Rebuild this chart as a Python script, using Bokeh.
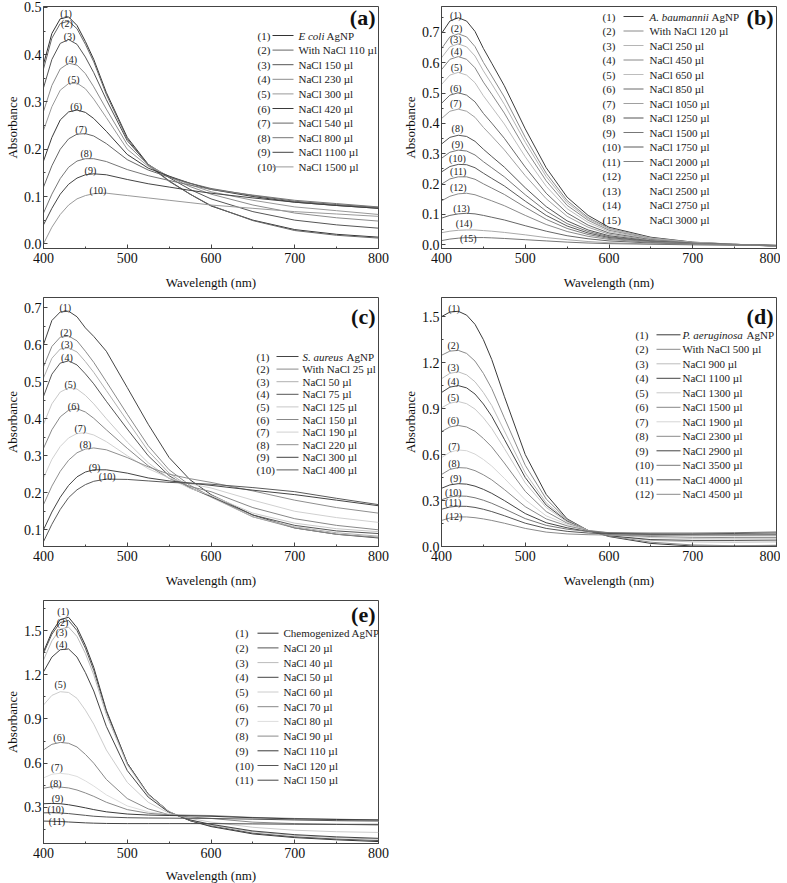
from bokeh.plotting import figure
from bokeh.layouts import column, row
from bokeh.models import Range1d, SingleIntervalTicker, PrintfTickFormatter
from bokeh.embed import file_html
from bokeh.resources import INLINE
from bokeh.core.properties import value

FONT = "Liberation Serif"
WL = [400, 410, 420, 430, 440, 450, 460, 475, 500, 525, 550, 575, 600, 650, 700, 750, 800]

# ---------------- panel (a) ----------------
A_ITALIC = "E coli"
A_LABELS = ["AgNP", "With NaCl 110 µl", "NaCl 150 µl", "NaCl 230 µl", "NaCl 300 µl",
            "NaCl 420 µl", "NaCl 540 µl", "NaCl 800 µl", "NaCl 1100 µl", "NaCl 1500 µl"]
A_LBL_WL = [427, 428, 431, 433, 436, 439, 445, 451, 456, 465]
A_LBL_Y = [0.488, 0.465, 0.439, 0.390, 0.348, 0.291, 0.242, 0.190, 0.156, 0.112]
A_SERIES = [
    [0.380, 0.445, 0.476, 0.480, 0.462, 0.428, 0.390, 0.320, 0.225, 0.168, 0.133, 0.105, 0.080, 0.050, 0.030, 0.020, 0.014],
    [0.370, 0.435, 0.466, 0.471, 0.455, 0.422, 0.385, 0.316, 0.222, 0.166, 0.132, 0.105, 0.081, 0.049, 0.028, 0.018, 0.012],
    [0.330, 0.390, 0.424, 0.432, 0.422, 0.395, 0.362, 0.305, 0.218, 0.168, 0.140, 0.115, 0.095, 0.068, 0.050, 0.040, 0.033],
    [0.280, 0.335, 0.370, 0.382, 0.378, 0.360, 0.332, 0.285, 0.210, 0.167, 0.142, 0.121, 0.105, 0.082, 0.065, 0.055, 0.048],
    [0.240, 0.290, 0.325, 0.339, 0.340, 0.328, 0.306, 0.267, 0.200, 0.164, 0.143, 0.125, 0.110, 0.092, 0.078, 0.070, 0.062],
    [0.175, 0.225, 0.262, 0.279, 0.283, 0.278, 0.265, 0.238, 0.189, 0.160, 0.143, 0.128, 0.115, 0.100, 0.088, 0.081, 0.075],
    [0.120, 0.165, 0.200, 0.222, 0.232, 0.233, 0.228, 0.212, 0.178, 0.156, 0.141, 0.128, 0.117, 0.102, 0.090, 0.083, 0.077],
    [0.065, 0.105, 0.138, 0.162, 0.175, 0.180, 0.180, 0.174, 0.157, 0.144, 0.134, 0.124, 0.115, 0.103, 0.092, 0.085, 0.078],
    [0.040, 0.075, 0.105, 0.126, 0.139, 0.146, 0.148, 0.146, 0.136, 0.127, 0.120, 0.113, 0.107, 0.097, 0.088, 0.081, 0.075],
    [0.000, 0.035, 0.062, 0.082, 0.095, 0.102, 0.106, 0.107, 0.102, 0.097, 0.092, 0.087, 0.082, 0.075, 0.068, 0.063, 0.058],
]
A_COLORS = ["#333333", "#666666", "#555555", "#8c8c8c", "#999999",
            "#3a3a3a", "#666666", "#777777", "#444444", "#9a9a9a"]

# ---------------- panel (b) ----------------
B_ITALIC = "A. baumannii"
B_LABELS = ["AgNP", "With NaCl 120 µl", "NaCl 250 µl", "NaCl 450 µl", "NaCl 650 µl",
            "NaCl 850 µl", "NaCl 1050 µl", "NaCl 1250 µl", "NaCl 1500 µl", "NaCl 1750 µl",
            "NaCl 2000 µl", "NaCl 2250 µl", "NaCl 2500 µl", "NaCl 2750 µl", "NaCl 3000 µl"]
B_LBL_WL = [417, 418, 417, 418, 418, 417, 417, 419, 419, 419, 420, 420, 424, 427, 432]
B_LBL_Y = [0.757, 0.713, 0.677, 0.636, 0.585, 0.514, 0.464, 0.382, 0.329, 0.285,
           0.243, 0.189, 0.121, 0.069, 0.022]
B_SERIES = [
    [0.696, 0.737, 0.748, 0.737, 0.703, 0.647, 0.598, 0.524, 0.382, 0.254, 0.157, 0.097, 0.058, 0.025, 0.009, 0.002, -0.005],
    [0.646, 0.685, 0.695, 0.685, 0.653, 0.601, 0.556, 0.487, 0.354, 0.236, 0.146, 0.090, 0.054, 0.023, 0.008, 0.002, -0.004],
    [0.616, 0.652, 0.662, 0.652, 0.622, 0.573, 0.530, 0.463, 0.338, 0.225, 0.139, 0.086, 0.052, 0.022, 0.008, 0.002, -0.004],
    [0.577, 0.611, 0.620, 0.611, 0.583, 0.536, 0.496, 0.434, 0.316, 0.211, 0.130, 0.081, 0.048, 0.020, 0.007, 0.002, -0.004],
    [0.528, 0.559, 0.568, 0.559, 0.534, 0.491, 0.454, 0.398, 0.290, 0.193, 0.119, 0.074, 0.044, 0.019, 0.007, 0.002, -0.003],
    [0.466, 0.493, 0.501, 0.493, 0.471, 0.433, 0.401, 0.351, 0.256, 0.170, 0.105, 0.065, 0.039, 0.017, 0.006, 0.001, -0.003],
    [0.416, 0.440, 0.447, 0.440, 0.420, 0.387, 0.358, 0.313, 0.228, 0.152, 0.094, 0.058, 0.035, 0.015, 0.005, 0.001, -0.003],
    [0.332, 0.354, 0.361, 0.357, 0.341, 0.315, 0.291, 0.256, 0.188, 0.126, 0.079, 0.049, 0.030, 0.013, 0.005, 0.001, -0.002],
    [0.285, 0.305, 0.312, 0.309, 0.296, 0.274, 0.254, 0.224, 0.165, 0.111, 0.070, 0.044, 0.027, 0.012, 0.004, 0.001, -0.002],
    [0.240, 0.258, 0.265, 0.264, 0.254, 0.236, 0.219, 0.194, 0.144, 0.097, 0.062, 0.039, 0.024, 0.011, 0.004, 0.001, -0.002],
    [0.200, 0.217, 0.224, 0.224, 0.216, 0.201, 0.187, 0.166, 0.124, 0.084, 0.054, 0.034, 0.021, 0.010, 0.004, 0.001, -0.002],
    [0.145, 0.160, 0.168, 0.170, 0.165, 0.155, 0.145, 0.129, 0.097, 0.067, 0.044, 0.028, 0.018, 0.008, 0.003, 0.000, -0.002],
    [0.088, 0.097, 0.102, 0.104, 0.102, 0.097, 0.091, 0.082, 0.063, 0.045, 0.030, 0.020, 0.013, 0.006, 0.002, 0.000, -0.002],
    [0.040, 0.045, 0.048, 0.049, 0.049, 0.047, 0.045, 0.041, 0.033, 0.024, 0.017, 0.011, 0.007, 0.003, 0.001, -0.001, -0.002],
    [0.014, 0.019, 0.022, 0.024, 0.024, 0.024, 0.023, 0.021, 0.017, 0.013, 0.009, 0.006, 0.004, 0.002, 0.000, -0.001, -0.002],
]
B_COLORS = ["#3c3c3c", "#8a8a8a", "#b5b5b5", "#888888", "#bdbdbd", "#6a6a6a", "#a0a0a0",
            "#555555", "#777777", "#5a5a5a", "#808080", "#8a8a8a", "#666666", "#aaaaaa", "#777777"]

# ---------------- panel (c) ----------------
C_ITALIC = "S. aureus"
C_LABELS = ["AgNP", "With NaCl 25 µl", "NaCl 50 µl", "NaCl 75 µl", "NaCl 125 µl",
            "NaCl 150 µl", "NaCl 190 µl", "NaCl 220 µl", "NaCl 300 µl", "NaCl 400 µl"]
C_LBL_WL = [426, 427, 428, 428, 432, 436, 444, 450, 461, 476]
C_LBL_Y = [0.700, 0.633, 0.599, 0.565, 0.493, 0.434, 0.373, 0.329, 0.269, 0.245]
C_SERIES = [
    [0.600, 0.665, 0.688, 0.690, 0.675, 0.645, 0.622, 0.582, 0.484, 0.385, 0.295, 0.235, 0.195, 0.140, 0.105, 0.088, 0.078],
    [0.540, 0.595, 0.620, 0.623, 0.610, 0.582, 0.552, 0.500, 0.412, 0.327, 0.262, 0.220, 0.190, 0.135, 0.105, 0.088, 0.080],
    [0.510, 0.563, 0.588, 0.591, 0.580, 0.554, 0.525, 0.476, 0.394, 0.313, 0.253, 0.215, 0.188, 0.135, 0.108, 0.092, 0.083],
    [0.460, 0.520, 0.550, 0.556, 0.545, 0.521, 0.494, 0.447, 0.372, 0.300, 0.246, 0.213, 0.190, 0.140, 0.112, 0.097, 0.090],
    [0.385, 0.440, 0.472, 0.483, 0.480, 0.463, 0.440, 0.400, 0.337, 0.281, 0.239, 0.212, 0.193, 0.145, 0.118, 0.103, 0.095],
    [0.320, 0.370, 0.405, 0.423, 0.427, 0.418, 0.401, 0.370, 0.320, 0.273, 0.239, 0.217, 0.203, 0.160, 0.130, 0.112, 0.100],
    [0.240, 0.290, 0.325, 0.348, 0.360, 0.362, 0.356, 0.338, 0.300, 0.265, 0.240, 0.224, 0.213, 0.180, 0.150, 0.133, 0.120],
    [0.168, 0.218, 0.258, 0.288, 0.308, 0.318, 0.321, 0.316, 0.295, 0.270, 0.250, 0.238, 0.228, 0.205, 0.180, 0.160, 0.145],
    [0.100, 0.148, 0.188, 0.220, 0.243, 0.256, 0.262, 0.262, 0.253, 0.240, 0.232, 0.226, 0.220, 0.207, 0.195, 0.180, 0.165],
    [0.068, 0.115, 0.155, 0.187, 0.208, 0.222, 0.231, 0.237, 0.236, 0.232, 0.228, 0.226, 0.223, 0.214, 0.203, 0.185, 0.168],
]
C_COLORS = ["#444444", "#8a8a8a", "#b0b0b0", "#555555", "#c8c8c8",
            "#888888", "#d0d0d0", "#8f8f8f", "#444444", "#5a5a5a"]

# ---------------- panel (d) ----------------
D_ITALIC = "P. aeruginosa"
D_LABELS = ["AgNP", "With NaCl 500 µl", "NaCl 900 µl", "NaCl 1100 µl", "NaCl 1300 µl",
            "NaCl 1500 µl", "NaCl 1900 µl", "NaCl 2300 µl", "NaCl 2900 µl", "NaCl 3500 µl",
            "NaCl 4000 µl", "NaCl 4500 µl"]
D_LBL_WL = [415, 414, 414, 414, 414, 414, 415, 415, 417, 414, 414, 415]
D_LBL_Y = [1.555, 1.314, 1.171, 1.080, 0.974, 0.821, 0.653, 0.543, 0.442, 0.355, 0.285, 0.197]
D_SERIES = [
    [1.500, 1.530, 1.535, 1.510, 1.450, 1.350, 1.220, 0.980, 0.600, 0.340, 0.180, 0.105, 0.065, 0.020, 0.003, 0.002, 0.005],
    [1.248, 1.275, 1.280, 1.260, 1.210, 1.130, 1.030, 0.840, 0.530, 0.310, 0.175, 0.105, 0.068, 0.028, 0.010, 0.005, 0.008],
    [1.095, 1.130, 1.140, 1.120, 1.075, 1.005, 0.920, 0.755, 0.480, 0.285, 0.170, 0.105, 0.070, 0.040, 0.030, 0.028, 0.030],
    [1.005, 1.040, 1.050, 1.035, 0.995, 0.930, 0.850, 0.700, 0.450, 0.270, 0.165, 0.105, 0.070, 0.045, 0.040, 0.040, 0.042],
    [0.905, 0.935, 0.946, 0.932, 0.897, 0.840, 0.770, 0.640, 0.415, 0.255, 0.160, 0.105, 0.075, 0.058, 0.052, 0.050, 0.050],
    [0.750, 0.780, 0.790, 0.780, 0.752, 0.705, 0.650, 0.545, 0.360, 0.228, 0.152, 0.105, 0.078, 0.065, 0.060, 0.058, 0.058],
    [0.580, 0.615, 0.630, 0.625, 0.603, 0.568, 0.525, 0.445, 0.305, 0.200, 0.145, 0.105, 0.085, 0.075, 0.070, 0.068, 0.068],
    [0.470, 0.503, 0.515, 0.512, 0.495, 0.468, 0.435, 0.372, 0.260, 0.180, 0.135, 0.105, 0.090, 0.082, 0.078, 0.076, 0.076],
    [0.380, 0.402, 0.410, 0.407, 0.394, 0.373, 0.347, 0.300, 0.215, 0.155, 0.122, 0.098, 0.085, 0.080, 0.077, 0.076, 0.077],
    [0.305, 0.323, 0.330, 0.328, 0.318, 0.302, 0.282, 0.246, 0.182, 0.138, 0.113, 0.098, 0.090, 0.088, 0.088, 0.090, 0.095],
    [0.243, 0.258, 0.263, 0.262, 0.255, 0.243, 0.228, 0.201, 0.152, 0.118, 0.099, 0.088, 0.082, 0.080, 0.082, 0.085, 0.088],
    [0.170, 0.186, 0.193, 0.193, 0.188, 0.180, 0.170, 0.152, 0.118, 0.094, 0.082, 0.077, 0.075, 0.073, 0.075, 0.078, 0.080],
]
D_COLORS = ["#3a3a3a", "#8a8a8a", "#bdbdbd", "#444444", "#c8c8c8", "#888888",
            "#d5d5d5", "#8a8a8a", "#444444", "#777777", "#555555", "#8a8a8a"]

# ---------------- panel (e) ----------------
E_ITALIC = None
E_LABELS = ["Chemogenized AgNP", "NaCl 20 µl", "NaCl 40 µl", "NaCl 50 µl", "NaCl 60 µl",
            "NaCl 70 µl", "NaCl 80 µl", "NaCl 90 µl", "NaCl 110 µl", "NaCl 120 µl", "NaCl 150 µl"]
E_LBL_WL = [423.5, 422.7, 421.5, 421.5, 420, 418.7, 416, 414.7, 416.7, 414.7, 416]
E_LBL_Y = [1.629, 1.554, 1.489, 1.403, 1.131, 0.775, 0.569, 0.463, 0.361, 0.289, 0.207]
E_SERIES = [
    [1.357, 1.490, 1.575, 1.590, 1.520, 1.400, 1.250, 0.960, 0.600, 0.390, 0.270, 0.210, 0.170, 0.120, 0.095, 0.080, 0.068],
    [1.345, 1.475, 1.555, 1.568, 1.500, 1.380, 1.230, 0.950, 0.600, 0.390, 0.270, 0.210, 0.175, 0.125, 0.100, 0.085, 0.075],
    [1.300, 1.430, 1.510, 1.523, 1.460, 1.345, 1.200, 0.930, 0.590, 0.385, 0.270, 0.215, 0.180, 0.135, 0.110, 0.095, 0.085],
    [1.220, 1.320, 1.370, 1.375, 1.320, 1.215, 1.090, 0.850, 0.550, 0.370, 0.265, 0.215, 0.185, 0.140, 0.115, 0.100, 0.090],
    [0.995, 1.060, 1.085, 1.080, 1.040, 0.960, 0.865, 0.690, 0.470, 0.335, 0.260, 0.225, 0.200, 0.165, 0.145, 0.135, 0.130],
    [0.690, 0.728, 0.741, 0.735, 0.710, 0.660, 0.600, 0.490, 0.360, 0.290, 0.250, 0.235, 0.225, 0.200, 0.190, 0.185, 0.180],
    [0.500, 0.525, 0.531, 0.525, 0.510, 0.480, 0.445, 0.385, 0.310, 0.270, 0.250, 0.242, 0.240, 0.225, 0.215, 0.210, 0.205],
    [0.430, 0.440, 0.438, 0.432, 0.418, 0.398, 0.375, 0.335, 0.285, 0.260, 0.250, 0.247, 0.245, 0.232, 0.225, 0.220, 0.215],
    [0.325, 0.327, 0.325, 0.318, 0.308, 0.297, 0.285, 0.270, 0.255, 0.248, 0.245, 0.243, 0.240, 0.230, 0.222, 0.218, 0.215],
    [0.263, 0.264, 0.262, 0.258, 0.252, 0.246, 0.240, 0.235, 0.230, 0.228, 0.227, 0.226, 0.225, 0.220, 0.215, 0.210, 0.208],
    [0.207, 0.206, 0.204, 0.201, 0.198, 0.195, 0.193, 0.191, 0.190, 0.190, 0.190, 0.190, 0.190, 0.188, 0.186, 0.185, 0.185],
]
E_COLORS = ["#333333", "#555555", "#bbbbbb", "#444444", "#cccccc", "#888888",
            "#dddddd", "#8a8a8a", "#3a3a3a", "#555555", "#444444"]


def make_panel(series, lbl_wl, lbl_y, colors, italic, ital_off, labels, letter, yr, ytick,
               frame, borders, leg, n_lines, xlab_standoff):
    fw, fh = frame
    lb, rb, tb, bb = borders
    p = figure(frame_width=fw, frame_height=fh,
               x_range=Range1d(400, 800), y_range=Range1d(yr[0], yr[1]),
               output_backend="svg", toolbar_location=None,
               min_border_left=lb, min_border_right=rb,
               min_border_top=tb, min_border_bottom=bb)
    p.xgrid.visible = False
    p.ygrid.visible = False
    p.outline_line_color = "#444444"
    p.outline_line_width = 1
    p.background_fill_color = "white"
    p.border_fill_color = "white"
    xa, ya = p.xaxis[0], p.yaxis[0]
    xa.ticker = SingleIntervalTicker(interval=100, num_minor_ticks=2)
    ya.ticker = SingleIntervalTicker(interval=ytick, num_minor_ticks=2)
    xa.formatter = PrintfTickFormatter(format="%d")
    ya.formatter = PrintfTickFormatter(format="%.1f")
    for ax in (xa, ya):
        ax.major_tick_in = 4
        ax.major_tick_out = 0
        ax.minor_tick_in = 2
        ax.minor_tick_out = 0
        ax.axis_line_color = "#444444"
        ax.major_tick_line_color = "#444444"
        ax.minor_tick_line_color = "#444444"
        ax.major_label_text_font = FONT
        ax.major_label_text_font_size = "14px"
        ax.major_label_text_color = "#111111"
        ax.axis_label_text_font = FONT
        ax.axis_label_text_font_size = "13px"
        ax.axis_label_text_font_style = "normal"
        ax.axis_label_text_color = "#111111"
    xa.axis_label = "Wavelength (nm)"
    ya.axis_label = "Absorbance"
    xa.major_label_standoff = 4
    xa.axis_label_standoff = xlab_standoff
    ya.major_label_standoff = 2
    ya.axis_label_standoff = 1

    for s, c in zip(series, colors):
        p.line(WL, s, line_color=c, line_width=1)

    n = len(series)
    nums = [f"({i + 1})" for i in range(n)]
    p.text(x=lbl_wl, y=lbl_y, text=nums,
           text_font=value(FONT), text_font_size="10px", text_align="center",
           text_baseline="middle", text_color="#222222")

    def xs(px):
        return 400 + px / fw * 400

    def ys(py):
        return yr[1] - py / fh * (yr[1] - yr[0])

    row0, sp, num_x, l0, l1, tx, letter_dy = leg
    rows_y = [ys(row0 + i * sp) for i in range(n)]
    p.text(x=[xs(num_x)] * n, y=rows_y, text=nums, text_font=value(FONT),
           text_font_size="11px", text_align="left", text_baseline="middle",
           text_color="#222222")
    for i in range(n_lines):
        p.segment(x0=[xs(l0)], y0=[rows_y[i]], x1=[xs(l1)], y1=[rows_y[i]],
                  line_color=colors[i], line_width=1)
    if italic:
        p.text(x=[xs(tx)], y=[rows_y[0]], text=[italic], text_font=value(FONT),
               text_font_size="11px", text_font_style="italic", text_align="left",
               text_baseline="middle", text_color="#222222")
        p.text(x=[xs(tx)], y=[rows_y[0]], text=[labels[0]], text_font=value(FONT),
               text_font_size="11px", text_align="left", text_baseline="middle",
               text_color="#222222", x_offset=ital_off)
        p.text(x=[xs(tx)] * (n - 1), y=rows_y[1:], text=labels[1:], text_font=value(FONT),
               text_font_size="11px", text_align="left", text_baseline="middle",
               text_color="#222222")
    else:
        p.text(x=[xs(tx)] * n, y=rows_y, text=labels, text_font=value(FONT),
               text_font_size="11px", text_align="left", text_baseline="middle",
               text_color="#222222")
    p.text(x=[xs(fw - 3)], y=[ys(letter_dy)], text=[letter], text_font=value(FONT),
           text_font_size="22px", text_font_style="bold", text_align="right",
           text_baseline="middle", text_color="#111111")
    return p


pa = make_panel(A_SERIES, A_LBL_WL, A_LBL_Y, A_COLORS, A_ITALIC, 28, A_LABELS, "(a)",
                (-0.01, 0.502), 0.1, (335, 242), (43, 15, 6, 43),
                (29, 14.6, 214, 229, 250, 255, 11), 10, 9)
pb = make_panel(B_SERIES, B_LBL_WL, B_LBL_Y, B_COLORS, B_ITALIC, 62, B_LABELS, "(b)",
                (-0.012, 0.785), 0.1, (335, 242), (48, 4, 6, 43),
                (10, 14.5, 161, 182, 202, 208, 11), 11, 9)
pc = make_panel(C_SERIES, C_LBL_WL, C_LBL_Y, C_COLORS, C_ITALIC, 44, C_LABELS, "(c)",
                (0.055, 0.727), 0.1, (335, 249), (43, 15, 5, 45),
                (59, 12.6, 213, 233, 255, 259, 19), 10, 9)
pd_ = make_panel(D_SERIES, D_LBL_WL, D_LBL_Y, D_COLORS, D_ITALIC, 64, D_LABELS, "(d)",
                 (0.0, 1.625), 0.3, (335, 249), (48, 4, 5, 45),
                 (37.3, 14.5, 194, 215, 239, 241, 19), 12, 9)
pe = make_panel(E_SERIES, E_LBL_WL, E_LBL_Y, E_COLORS, E_ITALIC, 0, E_LABELS, "(e)",
                (0.055, 1.704), 0.3, (335, 243), (43, 15, 9, 40),
                (32.7, 14.7, 192, 214, 235, 240, 14), 11, 7)

layout = column(row(pa, pb), row(pc, pd_), row(pe))
open("out.html", "w").write(file_html(layout, INLINE))
